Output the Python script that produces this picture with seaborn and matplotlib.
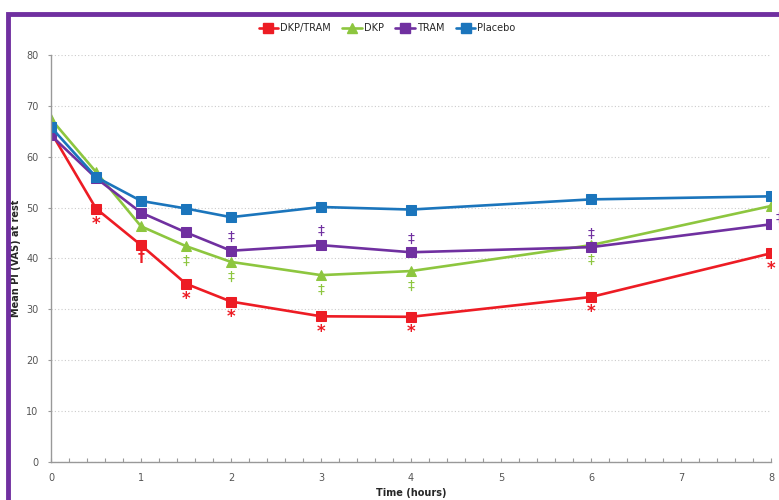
import numpy as np
import pandas as pd
import matplotlib
matplotlib.use('Agg')
import matplotlib.pyplot as plt
from matplotlib.patches import Rectangle
from matplotlib.lines import Line2D
import seaborn as sns

# time points (hours)
times = [0, 0.5, 1, 1.5, 2, 3, 4, 6, 8]

# mean PI (VAS) at rest
dkp_tram = [64.8, 49.8, 42.6, 35.0, 31.5, 28.6, 28.5, 32.4, 41.0]
dkp = [67.4, 57.0, 46.3, 42.4, 39.3, 36.7, 37.5, 42.6, 50.3]
tram = [64.2, 55.8, 49.0, 45.1, 41.5, 42.6, 41.2, 42.2, 46.7]
placebo = [65.8, 56.0, 51.3, 49.8, 48.1, 50.1, 49.6, 51.6, 52.2]

series_names = ['DKP/TRAM', 'DKP', 'TRAM', 'Placebo']
series_colors = ['#ED1C24', '#8DC63F', '#7030A0', '#1B75BC']
series_markers = ['s', '^', 's', 's']

# significance marks
red_marks = [(0.5, '*'), (1, '†'), (1.5, '*'), (2, '*'), (3, '*'), (4, '*'), (6, '*'), (8, '*')]
green_marks = [1.5, 2, 3, 4, 6]
purple_marks = [2, 3, 4, 6, 8]

sns.set_style('white')
plt.rcParams['font.family'] = ['DejaVu Sans']

fig = plt.figure(figsize=(7.79, 5.0), dpi=100)
ax = fig.add_axes([0.0655, 0.0766, 0.9242, 0.8134])

all_vals = [dkp_tram, dkp, tram, placebo]
handles = []
for name, vals, col, mk in zip(series_names, all_vals, series_colors, series_markers):
    sns.lineplot(x=times, y=vals, ax=ax, color=col, marker=mk, markersize=6.5,
                 markeredgecolor=col, linewidth=1.9, legend=False)
    handles.append(Line2D([], [], color=col, marker=mk, markersize=6.5, linewidth=1.9,
                          markeredgecolor=col, label=name))

# annotations
lookup = dict(zip(times, range(len(times))))
for t, sym in red_marks:
    y = dkp_tram[lookup[t]]
    ax.text(t, y - 3.0 if sym == '*' else y - 2.3, sym, color='#ED1C24', ha='center',
            va='center', fontsize=12 if sym == '*' else 10, fontweight='bold')
for t in green_marks:
    y = dkp[lookup[t]]
    ax.text(t, y - 3.0, '‡', color='#8DC63F', ha='center', va='center', fontsize=10)
for t in purple_marks:
    y = tram[lookup[t]]
    if t == 8:
        ax.text(t + 0.09, y + 1.2, '‡', color='#7030A0', ha='center', va='center',
                fontsize=10, clip_on=False)
    else:
        ax.text(t, y + 2.7, '‡', color='#7030A0', ha='center', va='center', fontsize=10)

ax.set_xlim(0, 8)
ax.set_ylim(0, 80)
ax.set_xticks(range(0, 9))
ax.set_xticks(np.arange(0, 8.01, 0.2), minor=True)
ax.set_yticks(range(0, 81, 10))
ax.tick_params(axis='both', labelsize=7, colors='#555555')
ax.tick_params(axis='x', which='both', direction='in', length=3, bottom=True, width=0.8,
               color='#999999', pad=8)
ax.tick_params(axis='y', left=True, direction='out', length=2, color='#999999', pad=7)
ax.yaxis.grid(True, linestyle=(0, (1, 2)), color='#CCCCCC', linewidth=0.8)
for s in ['top', 'right']:
    ax.spines[s].set_visible(False)
for s in ['left', 'bottom']:
    ax.spines[s].set_color('#999999')
    ax.spines[s].set_linewidth(1)

ax.set_xlabel('Time (hours)', fontsize=7, fontweight='bold')
ax.xaxis.set_label_coords(0.5, -0.064)
ax.set_ylabel('Mean PI (VAS) at rest', fontsize=7, fontweight='bold')
ax.yaxis.set_label_coords(-0.042, 0.5)

fig.legend(handles=handles, loc='center', bbox_to_anchor=(0.497, 0.944), ncol=4,
           frameon=False, fontsize=7, handlelength=2.0, columnspacing=1.2,
           handletextpad=0.2)

# purple frame around the chart
fig.patches.append(Rectangle((0.0103, -0.1), 1.2, 1.072, transform=fig.transFigure,
                             fill=False, edgecolor='#7030A0', linewidth=3.5))

fig.savefig('out.png', dpi=100)
